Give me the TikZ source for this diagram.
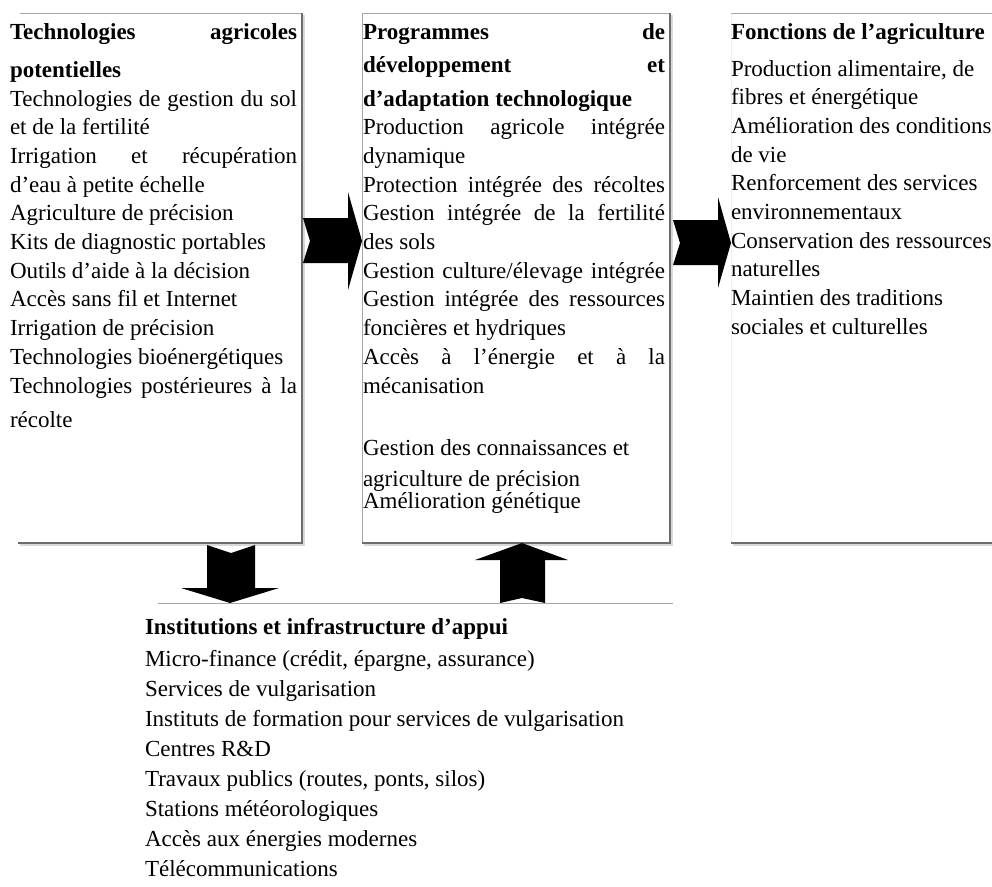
\documentclass[tikz,border=0pt]{standalone}
\usepackage{fontspec}
\setmainfont{Liberation Serif}
\newcommand\JL[2]{\makebox[#1pt][s]{#2}}
\begin{document}
\begin{tikzpicture}[x=1pt,y=-1pt,
  txt/.style={anchor=base west,inner sep=0pt,outer sep=0pt,font=\fontsize{23}{28}\selectfont},
  hd/.style={txt,font=\fontsize{23}{28}\selectfont\bfseries},
  edge/.style={draw=gray!70,line width=0.8pt},
  sedge/.style={draw=gray!85!black,line width=1.6pt},
  shad/.style={draw=gray!30,line width=1.4pt},
  blockarrow/.style={fill=black,draw=none}]
\useasboundingbox (0,0) rectangle (992,886);
% box corners
\coordinate (Lnw) at (20,13); \coordinate (Lne) at (302,13);
\coordinate (Lsw) at (18,543); \coordinate (Lse) at (302,543);
\coordinate (Mnw) at (362,13); \coordinate (Mne) at (670,13);
\coordinate (Msw) at (362,543); \coordinate (Mse) at (670,543);
\coordinate (Rnw) at (731,13); \coordinate (Rne) at (992,13);
\coordinate (Rsw) at (731,543); \coordinate (Rse) at (992,543);
\coordinate (Bnw) at (158,603); \coordinate (Bne) at (673,603);
% shadows
\draw[shad] ([shift={(2,2)}]Lne) -- ([shift={(2,2)}]Lse) -- ([shift={(2,2)}]Lsw);
\draw[shad] ([shift={(2,2)}]Mne) -- ([shift={(2,2)}]Mse) -- ([shift={(2,2)}]Msw);
\draw[shad] ([shift={(0,2)}]Rse) -- ([shift={(2,2)}]Rsw);
% box edges
\draw[edge] (Lnw) -- (Lne);
\draw[sedge] (Lne) -- (Lse) -- (Lsw);
\draw[edge] (Msw) -- (Mnw) -- (Mne);
\draw[sedge] (Mne) -- (Mse) -- (Msw);
\draw[draw=gray!12,line width=0.8pt] (Rnw) -- (Rsw);
\draw[edge] (Rnw) -- (Rne);
\draw[sedge] (Rsw) -- (Rse);
\draw[edge] (Bnw) -- (Bne);
% block arrows
\fill[blockarrow] (303,218) -- (348,218) -- (348,192) -- (362,241) -- (348,290) -- (348,263) -- (303,263) -- (310,241) -- cycle;
\fill[blockarrow] (673,220) -- (718,220) -- (718,197) -- (731,243) -- (718,288) -- (718,265) -- (673,265) -- (680,243) -- cycle;
\fill[blockarrow] (207,545) -- (231,553) -- (255,545) -- (255,588) -- (279,588) -- (230,603) -- (181,588) -- (207,588) -- cycle;
\fill[blockarrow] (500,603) -- (522,598) -- (545,603) -- (545,560) -- (568,560) -- (522,543) -- (475,560) -- (500,560) -- cycle;
% left column
\node[hd] (l1) at (10,39) {\JL{287}{Technologies agricoles}};
\node[hd] (l2) at (10,77) {potentielles};
\node[txt] (l3) at (10,106) {\JL{287}{Technologies de gestion du sol}};
\node[txt] (l4) at (10,134.7) {et de la fertilité};
\node[txt] (l5) at (10,163.4) {\JL{287}{Irrigation et récupération}};
\node[txt] (l6) at (10,192.1) {d’eau à petite échelle};
\node[txt] (l7) at (10,220.8) {Agriculture de précision};
\node[txt] (l8) at (10,249.5) {Kits de diagnostic portables};
\node[txt] (l9) at (10,278.2) {Outils d’aide à la décision};
\node[txt] (l10) at (10,306.9) {Accès sans fil et Internet};
\node[txt] (l11) at (10,335.6) {Irrigation de précision};
\node[txt] (l12) at (10,364.3) {Technologies bioénergétiques};
\node[txt] (l13) at (10,393) {\JL{287}{Technologies postérieures à la}};
\node[txt] (l14) at (10,427.5) {récolte};
% middle column
\node[hd] (m1) at (363,39) {\JL{302}{Programmes de}};
\node[hd] (m2) at (363,72.5) {\JL{302}{développement et}};
\node[hd] (m3) at (363,106) {d’adaptation technologique};
\node[txt] (m4) at (363,134.7) {\JL{302}{Production agricole intégrée}};
\node[txt] (m5) at (363,163.4) {dynamique};
\node[txt] (m6) at (363,192.1) {\JL{302}{Protection intégrée des récoltes}};
\node[txt] (m7) at (363,220.8) {\JL{302}{Gestion intégrée de la fertilité}};
\node[txt] (m8) at (363,249.5) {des sols};
\node[txt] (m9) at (363,278.2) {\JL{302}{Gestion culture/élevage intégrée}};
\node[txt] (m10) at (363,306.9) {\JL{302}{Gestion intégrée des ressources}};
\node[txt] (m11) at (363,335.6) {foncières et hydriques};
\node[txt] (m12) at (363,364.3) {\JL{302}{Accès à l’énergie et à la}};
\node[txt] (m13) at (363,393) {mécanisation};
\node[txt] (m14) at (363,455) {Gestion des connaissances et};
\node[txt] (m15) at (363,486) {agriculture de précision};
\node[txt] (m16) at (363,508) {Amélioration génétique};
% right column
\node[hd] (r1) at (731,39) {Fonctions de l’agriculture};
\node[txt] (r2) at (731,76) {Production alimentaire, de};
\node[txt] (r3) at (731,104.7) {fibres et énergétique};
\node[txt] (r4) at (731,133.4) {Amélioration des conditions};
\node[txt] (r5) at (731,162.1) {de vie};
\node[txt] (r6) at (731,190.8) {Renforcement des services};
\node[txt] (r7) at (731,219.5) {environnementaux};
\node[txt] (r8) at (731,248.2) {Conservation des ressources};
\node[txt] (r9) at (731,276.9) {naturelles};
\node[txt] (r10) at (731,305.6) {Maintien des traditions};
\node[txt] (r11) at (731,334.3) {sociales et culturelles};
% bottom column
\node[hd] (b1) at (145,634) {Institutions et infrastructure d’appui};
\node[txt] (b2) at (145,666) {Micro-finance (crédit, épargne, assurance)};
\node[txt] (b3) at (145,696) {Services de vulgarisation};
\node[txt] (b4) at (145,726) {Instituts de formation pour services de vulgarisation};
\node[txt] (b5) at (145,756) {Centres R\&D};
\node[txt] (b6) at (145,786) {Travaux publics (routes, ponts, silos)};
\node[txt] (b7) at (145,816) {Stations météorologiques};
\node[txt] (b8) at (145,846) {Accès aux énergies modernes};
\node[txt] (b9) at (145,876) {Télécommunications};
\end{tikzpicture}
\end{document}
